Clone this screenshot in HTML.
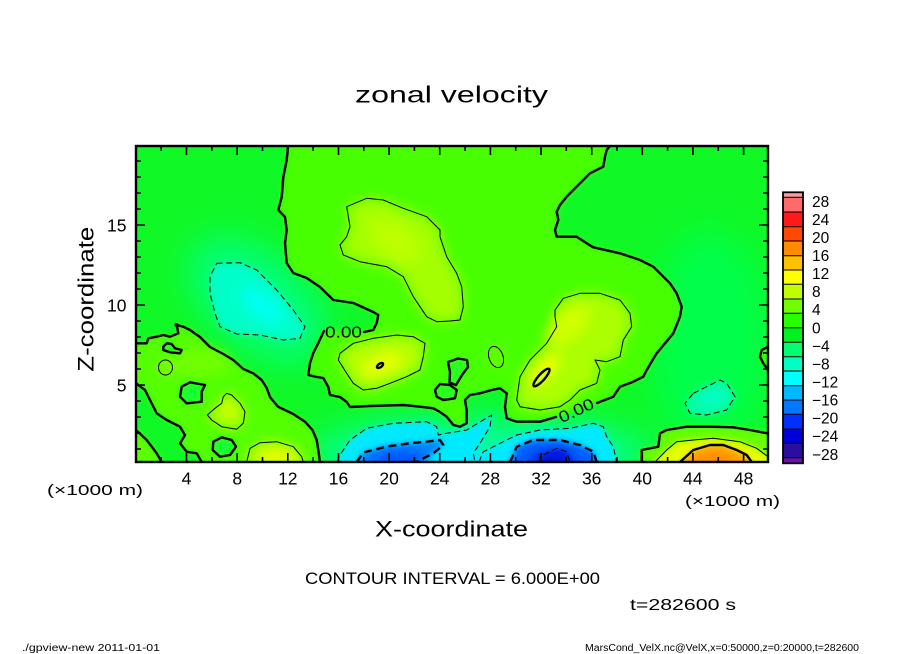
<!DOCTYPE html>
<html><head><meta charset="utf-8"><style>
html,body{margin:0;padding:0;background:#fff;}
svg{display:block;}
text{font-family:"Liberation Sans","DejaVu Sans",sans-serif;fill:#000;}
</style></head><body>
<svg width="904" height="654" viewBox="0 0 904 654" xmlns="http://www.w3.org/2000/svg">
<defs>
<clipPath id="pc"><rect x="136" y="146" width="632" height="316"/></clipPath>
<filter id="b1" filterUnits="userSpaceOnUse" x="80" y="90" width="760" height="440"><feGaussianBlur stdDeviation="3"/></filter>
<filter id="b2" filterUnits="userSpaceOnUse" x="80" y="90" width="760" height="440"><feGaussianBlur stdDeviation="6"/></filter>
<filter id="b3" filterUnits="userSpaceOnUse" x="60" y="60" width="800" height="500"><feGaussianBlur stdDeviation="18"/></filter>
</defs>

<text x="355" y="102.5" font-size="23" textLength="193" lengthAdjust="spacingAndGlyphs">zonal velocity</text>

<g clip-path="url(#pc)">
<rect x="110" y="120" width="690" height="370" fill="#10f826"/>
<g filter="url(#b3)">
<ellipse cx="258" cy="300" rx="80" ry="45" transform="rotate(40 258 300)" fill="#00ff80"/>
<ellipse cx="710" cy="340" rx="60" ry="110" fill="#00ff4c"/>
<ellipse cx="480" cy="455" rx="170" ry="35" fill="#00ffa0"/>
</g>
<g filter="url(#b1)">
<path fill="#46ff00" d="M288,120 L288,146 286.7,160 283.3,177 281.7,197 278.3,210 285,217 286.7,230 285,243 286.7,263 293.3,273 306.7,278 320,287 333.3,300 353.3,303 373.3,312 378.3,315 376.7,323 373.3,330 364,332 345,331 324,331 318.3,343 313.3,353 310,363 308.3,375 316.7,377 323.3,378 328.3,387 330,395 340,397 346.7,402 350,407 370,406 403.3,405 420,406.7 433.3,408.3 440,412 446.7,416.7 453.3,425 460,426.7 466.7,423.3 466.7,410 465,400 470,395 480,393.3 491.7,390 500,388.3 506.7,393.3 505,406.7 506.7,418.3 516.7,421.7 540,421.7 556,417 576,410 597,403 613.3,396.7 620,386.7 633.3,381.7 643.3,376.7 646.7,370 656.7,353.3 673.3,333.3 680,316.7 681.7,306.7 676.7,293.3 670,283.3 653.3,266.7 640,260 620,253.3 593.3,247.3 586.7,243.3 576.7,236.7 556.7,236.7 555,230 558.3,220 556.7,211.7 560,205 566.7,196.7 580,183.3 590,173.3 603.3,166.7 605,156.7 606.7,150 610,146 610,120 Z"/>
<path fill="#52ff00" d="M120,343.3 L136.7,343.3 146.7,343.3 148.3,338.3 156.7,336.7 163.3,335 170,336.7 178.3,333.3 176.7,325 183.3,326.7 190,330 200,337 210,347 223.3,354 233.3,360 243.3,369 253.3,373.3 261.7,380 266.7,388 270,397 278,406.7 293.3,414 305,421.7 312.5,430 316.7,440 318.3,450 320,462 320,480 201.7,480 201.7,462 196.7,453.3 186.7,451.7 180,443.3 185,435 180,426.7 166.7,420 156.7,413.3 150,400 145,390 136.7,383.3 120,383.3 Z"/>
<path fill="#5aff00" d="M120,430 L136.7,430 146.7,440 156.7,453.3 161.7,462 161.7,480 120,480 Z"/>
<path fill="#66ff00" d="M641.7,480 L641.7,450 658.3,446.7 660,433.3 666.7,430 686.7,426.7 710,426.7 733.3,427.3 750,430 768,433.5 790,434 790,480 Z"/>
<path fill="#40ff00" d="M780,346.7 L768,346.7 761.7,350 760,356.7 763.3,363.3 768,370 780,370 Z"/>
<path fill="#00ffc8" d="M216.7,263.3 L240,262.7 256.7,270 276.7,290 293.3,310 305,326.7 300,338.3 283.3,340 260,335 236.7,334 220,326.7 215,313.3 210,293.3 210,276.7 Z"/>
<path fill="#00ffa8" d="M693.3,393.3 L706.7,386.7 720,380 726.7,383.3 735,396.7 726.7,410 706.7,415 690,413.3 685,403.3 Z"/>
<path fill="#00eaff" d="M336.7,480 L336.7,462 340,455 350,440 366.7,428.3 393.3,423.3 426.7,421.7 436.7,426.7 438.3,435 446.7,433.3 466.7,430 483.3,420 491.7,415 490,426.7 480,443.3 476,455 483,452 506.7,440 516.7,435 540,430 570,428.3 593.3,423.3 603.3,426.7 606.7,436.7 613.3,446.7 616.7,462 616.7,480 Z"/>
</g>
<g filter="url(#b2)">
<path fill="#a4ff00" d="M346.7,206.7 L366.7,198.3 383.3,200 403.3,208.3 426.7,216.7 440,230 440,236.7 446.7,256.7 456.7,273.3 461.7,286.7 463.3,306.7 460,320 450,321 436.7,321.7 426.7,316.7 413.3,296.7 403.3,276.7 386.7,266.7 360,261.7 343.3,255 340,245 346.7,236.7 350,226.7 Z"/>
<path fill="#b4ff00" d="M340,353.3 L353.3,343.3 373.3,338.3 396.7,335 413.3,336.7 425,343.3 423.3,356.7 420,370 406.7,376.7 390,383.3 376.7,388.3 363.3,390 353.3,383.3 346.7,373.3 338.3,360 Z"/>
<path fill="#acff00" d="M555,310 L563.3,298.3 580,293.3 600,293.3 620,300 630,313.3 631.7,326.7 623.3,340 620,356.7 606.7,361.7 595,360 600,370 596.7,383.3 580,390 570,400 560,406.7 540,410 520,406.7 516.7,400 520,376.7 530,360 546.7,343.3 556.7,326.7 555,316.7 Z"/>
<path fill="#a8ff00" d="M226.7,393.3 L231.7,395 240,403.3 245,411.7 243.3,423.3 236.7,429.3 221.7,426.7 211.7,420 207.3,415 215,408.3 221.7,403.3 223.3,396.7 Z"/>
<path fill="#bcff00" d="M246.7,480 L246.7,462 250,448.3 260,442.7 276.7,441.7 293.3,446.7 301.7,456.7 303.3,462 303.3,480 Z"/>
<ellipse cx="165.5" cy="367.5" rx="7" ry="7.5" fill="#8cff00"/>
<ellipse cx="496" cy="357" rx="7" ry="11" transform="rotate(-20 496 357)" fill="#70ff00"/>
<ellipse cx="200" cy="362" rx="30" ry="15" fill="#70ff00"/>
</g>
<g filter="url(#b1)">
<path fill="#18ff30" d="M163.3,346.7 L166.7,343.3 171.7,344 175,348.3 181.7,350 180,353.3 170,352.3 163.3,350 Z"/>
<path fill="#18ff30" d="M181.7,386.7 L190,382.3 205,385 201.7,391.7 201.7,401.7 186.7,403.3 180,396.7 Z"/>
<path fill="#18ff30" d="M213.3,441.7 L221.7,437.3 231.7,440 236,446.7 230,455 220,456.7 212.7,450 Z"/>
<path fill="#28ff20" d="M448,362 L458,358.5 467,360 468,367 462,375 456,385 449.5,382.5 450,372 Z"/>
<path fill="#28ff20" d="M435,390 L440,384 450,385 456.7,390 455,398.3 443.3,400 436.7,396.7 Z"/>
<path fill="#0088ff" d="M356.7,480 L356.7,462 363.3,452.5 386.7,446.5 410,443.3 426.7,441.7 440,440 443.3,445 433.3,453.3 420,460 416.7,462 416.7,480 Z"/>
<path fill="#0060ff" d="M510,480 L510,462 516.7,446.7 533.3,440 560,440 580,445 593.3,451.7 596.7,462 596.7,480 Z"/>
<path fill="#0020f0" d="M540,480 L540,456.7 556.7,448.3 566.7,451.7 570,462 570,480 Z"/>
<path fill="#e4ff00" d="M655,480 L655,460 666.7,450 676.7,441.7 693.3,440 713.3,438.3 740,441.7 756.7,448.3 768,456.7 790,460 790,480 Z"/>
<path fill="#ffa800" d="M680,480 L680,461.7 693.3,450 710,445 723.3,445 736.7,450 746.7,455 751.7,461.7 751.7,480 Z"/>
</g>
<g filter="url(#b2)">
<ellipse cx="400" cy="460" rx="30" ry="9" fill="#0050ff"/>
<ellipse cx="552" cy="463" rx="22" ry="9" fill="#0008d8"/>
<ellipse cx="714" cy="464" rx="22" ry="10" fill="#ff8400"/>
<ellipse cx="382" cy="364" rx="22" ry="10" transform="rotate(-20 382 364)" fill="#e8ff00"/>
<ellipse cx="545" cy="370" rx="20" ry="8" transform="rotate(-48 545 370)" fill="#f4ff00"/>
<ellipse cx="568" cy="325" rx="26" ry="14" transform="rotate(-40 568 325)" fill="#d0ff00"/>
<ellipse cx="262" cy="305" rx="26" ry="12" transform="rotate(40 262 305)" fill="#00fff0"/>
<ellipse cx="712" cy="398" rx="14" ry="8" fill="#00ffc8"/>
<ellipse cx="228" cy="410" rx="10" ry="10" fill="#c8ff00"/>
<ellipse cx="278" cy="458" rx="18" ry="9" fill="#e4ff00"/>
<ellipse cx="395" cy="240" rx="30" ry="16" transform="rotate(35 395 240)" fill="#bcff00"/>
</g>

<!-- contour lines -->
<g fill="none" stroke="#000" stroke-linejoin="round" stroke-linecap="round">
<g stroke-width="2.4">
<polyline points="288,146 286.7,160 283.3,177 281.7,197 278.3,210 285,217 286.7,230 285,243 286.7,263 293.3,273 306.7,278 320,287 333.3,300 353.3,303 373.3,312 378.3,315 376.7,323 373.3,330 364,332"/>
<polyline points="324,331 318.3,343 313.3,353 310,363 308.3,375 316.7,377 323.3,378 328.3,387 330,395 340,397 346.7,402 350,407 370,406 403.3,405 420,406.7 433.3,408.3 440,412 446.7,416.7 453.3,425 460,426.7 466.7,423.3 466.7,410 465,400 470,395 480,393.3 491.7,390 500,388.3 506.7,393.3 505,406.7 506.7,418.3 516.7,421.7 540,421.7 556,417"/>
<polyline points="597,403 613.3,396.7 620,386.7 633.3,381.7 643.3,376.7 646.7,370 656.7,353.3 673.3,333.3 680,316.7 681.7,306.7 676.7,293.3 670,283.3 653.3,266.7 640,260 620,253.3 593.3,247.3 586.7,243.3 576.7,236.7 556.7,236.7 555,230 558.3,220 556.7,211.7 560,205 566.7,196.7 580,183.3 590,173.3 603.3,166.7 605,156.7 606.7,150 610,146"/>
<polyline points="136,343.3 146.7,343.3 148.3,338.3 156.7,336.7 163.3,335 170,336.7 178.3,333.3 176.7,325 183.3,326.7 190,330 200,337 210,347 223.3,354 233.3,360 243.3,369 253.3,373.3 261.7,380 266.7,388 270,397 278,406.7 293.3,414 305,421.7 312.5,430 316.7,440 318.3,450 320,462"/>
<polyline points="136,383.3 145,390 150,400 156.7,413.3 166.7,420 180,426.7 185,435 180,443.3 186.7,451.7 196.7,453.3 201.7,462"/>
<polyline points="136,430 146.7,440 156.7,453.3 161.7,462"/>
<polyline points="641.7,462 641.7,450 658.3,446.7 660,433.3 666.7,430 686.7,426.7 710,426.7 733.3,427.3 750,430 768,433.5"/>
<polyline points="680,462 693.3,450 710,445 723.3,445 736.7,450 746.7,455 751.7,462"/>
<polyline points="768,346.7 761.7,350 760,356.7 763.3,363.3 768,370"/>
<polygon points="163.3,346.7 166.7,343.3 171.7,344 175,348.3 181.7,350 180,353.3 170,352.3 163.3,350"/>
<polygon points="181.7,386.7 190,382.3 205,385 201.7,391.7 201.7,401.7 186.7,403.3 180,396.7"/>
<polygon points="213.3,441.7 221.7,437.3 231.7,440 236,446.7 230,455 220,456.7 212.7,450"/>
<polygon points="448,362 458,358.5 467,360 468,367 462,375 456,385 449.5,382.5 450,372"/>
<polygon points="435,390 440,384 450,385 456.7,390 455,398.3 443.3,400 436.7,396.7"/>
<ellipse cx="380" cy="365.5" rx="3.5" ry="1.8" transform="rotate(-35 380 365.5)"/>
<ellipse cx="541.5" cy="377.5" rx="11.5" ry="3.2" transform="rotate(-48 541.5 377.5)"/>
</g>
<circle cx="176.5" cy="325" r="2" fill="#000" stroke="none"/>
<g stroke-width="1">
<polygon points="346.7,206.7 366.7,198.3 383.3,200 403.3,208.3 426.7,216.7 440,230 440,236.7 446.7,256.7 456.7,273.3 461.7,286.7 463.3,306.7 460,320 450,321 436.7,321.7 426.7,316.7 413.3,296.7 403.3,276.7 386.7,266.7 360,261.7 343.3,255 340,245 346.7,236.7 350,226.7"/>
<polygon points="340,353.3 353.3,343.3 373.3,338.3 396.7,335 413.3,336.7 425,343.3 423.3,356.7 420,370 406.7,376.7 390,383.3 376.7,388.3 363.3,390 353.3,383.3 346.7,373.3 338.3,360"/>
<polygon points="555,310 563.3,298.3 580,293.3 600,293.3 620,300 630,313.3 631.7,326.7 623.3,340 620,356.7 606.7,361.7 595,360 600,370 596.7,383.3 580,390 570,400 560,406.7 540,410 520,406.7 516.7,400 520,376.7 530,360 546.7,343.3 556.7,326.7 555,316.7"/>
<polygon points="226.7,393.3 231.7,395 240,403.3 245,411.7 243.3,423.3 236.7,429.3 221.7,426.7 211.7,420 207.3,415 215,408.3 221.7,403.3 223.3,396.7"/>
<polyline points="246.7,462 250,448.3 260,442.7 276.7,441.7 293.3,446.7 301.7,456.7 303.3,462"/>
<ellipse cx="165.5" cy="367.5" rx="7" ry="7.5"/>
<ellipse cx="496" cy="357" rx="7" ry="11" transform="rotate(-20 496 357)"/>
<polyline points="655,462 666.7,450 676.7,441.7 693.3,440 713.3,438.3 740,441.7 756.7,448.3 768,456.7"/>
</g>
<g stroke-width="1" stroke-dasharray="6 3.5" stroke-linecap="butt">
<polygon points="216.7,263.3 240,262.7 256.7,270 276.7,290 293.3,310 305,326.7 300,338.3 283.3,340 260,335 236.7,334 220,326.7 215,313.3 210,293.3 210,276.7"/>
<polygon points="693.3,393.3 706.7,386.7 720,380 726.7,383.3 735,396.7 726.7,410 706.7,415 690,413.3 685,403.3"/>
<polyline points="336.7,462 340,455 350,440 366.7,428.3 393.3,423.3 426.7,421.7 436.7,426.7 438.3,435 446.7,433.3 466.7,430 483.3,420 491.7,415 490,426.7 480,443.3 473.3,453.3 475,462"/>
<polyline points="479,462 483,452 506.7,440 516.7,435 540,430 570,428.3 593.3,423.3 603.3,426.7 606.7,436.7 613.3,446.7 616.7,462"/>
<polyline points="540,462 540,456.7 556.7,448.3 566.7,451.7 570,462"/>
</g>
<g stroke-width="2.4" stroke-dasharray="8 4.5" stroke-linecap="butt">
<polyline points="356.7,462 363.3,452.5 386.7,446.5 410,443.3 426.7,441.7 440,440 443.3,445 433.3,453.3 420,460 416.7,462"/>
<polyline points="510,462 516.7,446.7 533.3,440 560,440 580,445 593.3,451.7 596.7,462"/>
</g>
</g>
<text x="325" y="337.5" font-size="16" textLength="37" lengthAdjust="spacingAndGlyphs">0.00</text>
<text x="576" y="416" font-size="16" text-anchor="middle" textLength="37" lengthAdjust="spacingAndGlyphs" transform="rotate(-25 576 410)">0.00</text>
</g>

<!-- frame -->
<rect x="136" y="146" width="632" height="316" fill="none" stroke="#000" stroke-width="2.4"/>

<!-- ticks -->
<g stroke="#000" stroke-width="1.6" fill="none">
<path d="M186.5,462v-9M237.2,462v-9M287.8,462v-9M338.5,462v-9M389.1,462v-9M439.7,462v-9M490.4,462v-9M541,462v-9M591.7,462v-9M642.3,462v-9M692.9,462v-9M743.6,462v-9"/>
<path d="M186.5,146v9M237.2,146v9M287.8,146v9M338.5,146v9M389.1,146v9M439.7,146v9M490.4,146v9M541,146v9M591.7,146v9M642.3,146v9M692.9,146v9M743.6,146v9"/>
<path d="M161.2,462v-5M211.9,462v-5M262.5,462v-5M313.1,462v-5M363.8,462v-5M414.4,462v-5M465.1,462v-5M515.7,462v-5M566.3,462v-5M617,462v-5M667.6,462v-5M718.3,462v-5"/>
<path d="M161.2,146v5M211.9,146v5M262.5,146v5M313.1,146v5M363.8,146v5M414.4,146v5M465.1,146v5M515.7,146v5M566.3,146v5M617,146v5M667.6,146v5M718.3,146v5"/>
<path d="M136,385h9M136,305h9M136,225h9M768,385h-9M768,305h-9M768,225h-9"/>
<path d="M136,449h5M136,433h5M136,417h5M136,401h5M136,369h5M136,353h5M136,337h5M136,321h5M136,289h5M136,273h5M136,257h5M136,241h5M136,209h5M136,193h5M136,177h5M136,161h5"/>
<path d="M768,449h-5M768,433h-5M768,417h-5M768,401h-5M768,369h-5M768,353h-5M768,337h-5M768,321h-5M768,289h-5M768,273h-5M768,257h-5M768,241h-5M768,209h-5M768,193h-5M768,177h-5M768,161h-5"/>
</g>

<!-- tick labels -->
<g font-size="17.5" text-anchor="middle">
<text x="186.5" y="484.5">4</text><text x="237.2" y="484.5">8</text><text x="287.8" y="484.5">12</text><text x="338.5" y="484.5">16</text><text x="389.1" y="484.5">20</text><text x="439.7" y="484.5">24</text><text x="490.4" y="484.5">28</text><text x="541" y="484.5">32</text><text x="591.7" y="484.5">36</text><text x="642.3" y="484.5">40</text><text x="692.9" y="484.5">44</text><text x="743.6" y="484.5">48</text>
</g>
<g font-size="17.5" text-anchor="end">
<text x="126.5" y="391.5">5</text><text x="126.5" y="311.5">10</text><text x="126.5" y="231.5">15</text>
</g>
<text x="47" y="495" font-size="15" textLength="96" lengthAdjust="spacingAndGlyphs">(×1000 m)</text>
<text x="685" y="506" font-size="15" textLength="95" lengthAdjust="spacingAndGlyphs">(×1000 m)</text>
<text x="375" y="536.5" font-size="22" textLength="153" lengthAdjust="spacingAndGlyphs">X-coordinate</text>
<text transform="translate(93.3 371.7) rotate(-90)" font-size="22" textLength="145" lengthAdjust="spacingAndGlyphs">Z-coordinate</text>

<!-- colorbar -->
<g stroke="none">
<rect x="783" y="192.3" width="20" height="5" fill="#ff9a9a"/>
<rect x="783" y="197.3" width="20" height="14.7" fill="#ff6a6a"/>
<rect x="783" y="212" width="20" height="14.7" fill="#ff1a1a"/>
<rect x="783" y="226.7" width="20" height="14.3" fill="#ff4800"/>
<rect x="783" y="241" width="20" height="14.7" fill="#ff8c00"/>
<rect x="783" y="255.7" width="20" height="14.3" fill="#ffc000"/>
<rect x="783" y="270" width="20" height="14.3" fill="#ffff00"/>
<rect x="783" y="284.3" width="20" height="14.7" fill="#c0ff00"/>
<rect x="783" y="299" width="20" height="14.3" fill="#70ff00"/>
<rect x="783" y="313.3" width="20" height="14.4" fill="#28ff00"/>
<rect x="783" y="327.7" width="20" height="14.6" fill="#00f020"/>
<rect x="783" y="342.3" width="20" height="14.4" fill="#00ff70"/>
<rect x="783" y="356.7" width="20" height="14.3" fill="#00ffc0"/>
<rect x="783" y="371" width="20" height="14.7" fill="#00ffff"/>
<rect x="783" y="385.7" width="20" height="14.3" fill="#00b8ff"/>
<rect x="783" y="400" width="20" height="14.3" fill="#0078ff"/>
<rect x="783" y="414.3" width="20" height="14.7" fill="#0030ff"/>
<rect x="783" y="429" width="20" height="14.3" fill="#0000d8"/>
<rect x="783" y="443.3" width="20" height="14.4" fill="#2a0ea0"/>
<rect x="783" y="457.7" width="20" height="5.6" fill="#6a10b0"/>
</g>
<g stroke="#000" stroke-width="1">
<path d="M783,197.3h20M783,212h20M783,226.7h20M783,241h20M783,255.7h20M783,270h20M783,284.3h20M783,299h20M783,313.3h20M783,327.7h20M783,342.3h20M783,356.7h20M783,371h20M783,385.7h20M783,400h20M783,414.3h20M783,429h20M783,443.3h20M783,457.7h20"/>
</g>
<rect x="783" y="192.3" width="20" height="271" fill="none" stroke="#000" stroke-width="1.8"/>
<g font-size="15.5">
<text x="812" y="206.8">28</text>
<text x="812" y="224.9">24</text>
<text x="812" y="243">20</text>
<text x="812" y="261">16</text>
<text x="812" y="279.1">12</text>
<text x="812" y="297.2">8</text>
<text x="812" y="315.2">4</text>
<text x="812" y="333.3">0</text>
<text x="812" y="351.4">−4</text>
<text x="812" y="369.4">−8</text>
<text x="812" y="387.5">−12</text>
<text x="812" y="405.6">−16</text>
<text x="812" y="423.6">−20</text>
<text x="812" y="441.7">−24</text>
<text x="812" y="459.8">−28</text>
</g>

<!-- bottom texts -->
<text x="305" y="584" font-size="17" textLength="295" lengthAdjust="spacingAndGlyphs">CONTOUR INTERVAL = 6.000E+00</text>
<text x="630" y="610" font-size="15.5" textLength="106" lengthAdjust="spacingAndGlyphs">t=282600 s</text>
<text x="22" y="651" font-size="10" textLength="138" lengthAdjust="spacingAndGlyphs">./gpview-new  2011-01-01</text>
<text x="585" y="651" font-size="10" textLength="274" lengthAdjust="spacingAndGlyphs">MarsCond_VelX.nc@VelX,x=0:50000,z=0:20000,t=282600</text>
</svg>
</body></html>
